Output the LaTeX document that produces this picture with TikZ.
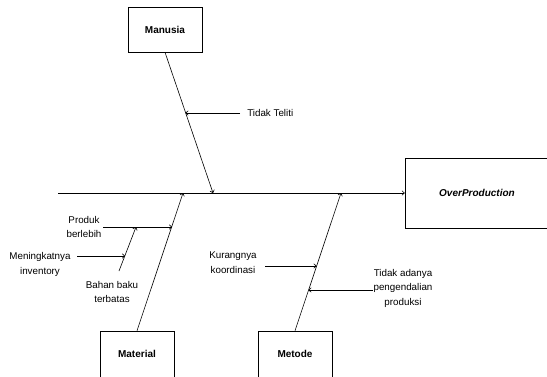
\documentclass[tikz,border=0pt]{standalone}
\usepackage{fontspec}
\setmainfont{Liberation Sans}
\usetikzlibrary{arrows.meta}
\begin{document}
\begin{tikzpicture}[x=1pt,y=-1pt, line width=0.6pt,
 box/.style={draw, rectangle, inner sep=0pt, font=\fontsize{10}{11}\selectfont\bfseries},
 boxtext/.style={inner sep=0pt, font=\fontsize{10}{11}\selectfont\bfseries},
 lbl/.style={align=center, font=\fontsize{9.8}{14.5}\selectfont, inner sep=0pt},
 arr/.style={-{To[length=3pt,width=5pt]}}]
\useasboundingbox (0,0) rectangle (547,376);
\clip (0,0) rectangle (547,376);
% boxes
\node[box, minimum width=74pt, minimum height=45pt] (manusia) at (165,29.5) {Manusia};
\node[box, minimum width=144pt, minimum height=70pt, font=\fontsize{10}{11}\selectfont\bfseries\itshape] (over) at (477,193) {OverProduction};
\node[box, minimum width=74pt, minimum height=60pt] (material) at (137,361) {};
\node[boxtext] (materialt) at (137,354) {Material};
\node[box, minimum width=74pt, minimum height=60pt] (metode) at (295,361) {};
\node[boxtext] (metodet) at (295,354) {Metode};
% spine
\coordinate (tail) at (58,193);
\draw[arr] (tail) -- (over.west);
% bones
\coordinate (mh) at (213,193);
\coordinate (mah) at (183,193);
\coordinate (meh) at (341,193);
\draw[arr] (manusia.south) -- (mh);
\draw[arr] (material.north) -- (mah);
\draw[arr] (metode.north) -- (meh);
% sub bone
\coordinate (bb0) at (119,271);
\coordinate (bb1) at (136,227);
\draw[arr] (bb0) -- (bb1);
% labels
\node[lbl, anchor=west] (tt) at (247,113) {Tidak Teliti};
\node[lbl] (pb) at (84,227) {Produk\\berlebih};
\node[lbl] (mi) at (40,264.5) {Meningkatnya\\inventory};
\node[lbl] (bb) at (112,292) {Bahan baku\\terbatas};
\node[lbl] (kk) at (233,262.5) {Kurangnya\\koordinasi};
\node[lbl] (ta) at (403,288) {Tidak adanya\\pengendalian\\produksi};
% cause arrows
\coordinate (tt0) at (240,113); \coordinate (tt1) at (185.5,113);
\draw[arr] (tt0) -- (tt1);
\coordinate (pb0) at (103,227); \coordinate (pb1) at (172,227);
\draw[arr] (pb0) -- (pb1);
\coordinate (mi0) at (77,256); \coordinate (mi1) at (125,256);
\draw[arr] (mi0) -- (mi1);
\coordinate (kk0) at (265,266); \coordinate (kk1) at (316.5,266);
\draw[arr] (kk0) -- (kk1);
\coordinate (ta0) at (373,290); \coordinate (ta1) at (308.5,290);
\draw[arr] (ta0) -- (ta1);
\end{tikzpicture}
\end{document}
